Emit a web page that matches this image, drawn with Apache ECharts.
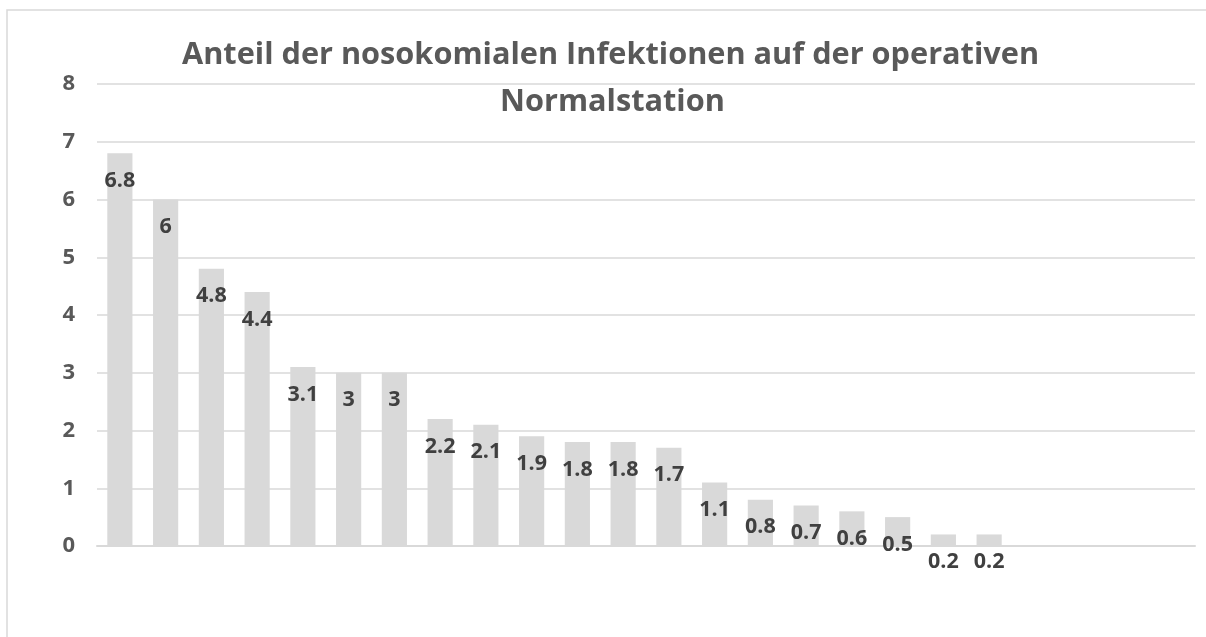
<!DOCTYPE html>
<html>
<head>
<meta charset="utf-8">
<script src="https://cdn.jsdelivr.net/npm/echarts@6/dist/echarts.min.js"></script>
<style>
  html, body { margin: 0; padding: 0; background: #ffffff; }
  #chart { width: 1206px; height: 637px; }
</style>
</head>
<body>
<div id="chart"></div>
<script>
// Anteil nosokomialer Infektionen je Kategorie (in %), absteigend sortiert
const categories = ['K1','K2','K3','K4','K5','K6','K7','K8','K9','K10','K11','K12',
                    'K13','K14','K15','K16','K17','K18','K19','K20','K21','K22','K23','K24'];
const values = [6.8, 6, 4.8, 4.4, 3.1, 3, 3, 2.2, 2.1, 1.9, 1.8, 1.8,
                1.7, 1.1, 0.8, 0.7, 0.6, 0.5, 0.2, 0.2, null, null, null, null];
const yTicks = [0, 1, 2, 3, 4, 5, 6, 7, 8];
const titleLine1 = 'Anteil der nosokomialen Infektionen auf der operativen';
const titleLine2 = 'Normalstation';

const chart = echarts.init(document.getElementById('chart'));
const FONT = "'Open Sans', 'Liberation Sans', sans-serif";
const titleStyle = { fontFamily: FONT, fontWeight: 'bold', fontSize: 30.7, color: '#595959' };
const tickStyle = { fontFamily: FONT, fontWeight: 'bold', fontSize: 22, color: '#595959' };

chart.setOption({
  backgroundColor: '#ffffff',
  animation: false,
  title: [
    { text: titleLine1, left: 177, top: 35, textStyle: titleStyle },
    { text: titleLine2, left: 495, top: 82, textStyle: titleStyle }
  ],
  graphic: [
    {
      type: 'rect',
      shape: { x: 7, y: 10, width: 1220, height: 650 },
      style: { fill: 'none', stroke: '#d9d9d9', lineWidth: 1.5 },
      silent: true
    }
  ],
  grid: { left: 97, right: 11, top: 84, bottom: 91 },
  xAxis: {
    type: 'category',
    data: categories,
    axisLine: { show: true, lineStyle: { color: '#d9d9d9', width: 2 } },
    axisTick: { show: false },
    axisLabel: { show: false }
  },
  yAxis: {
    type: 'value',
    min: yTicks[0],
    max: yTicks[yTicks.length - 1],
    interval: 1,
    axisLine: { show: false },
    axisTick: { show: false },
    axisLabel: {
      margin: 22,
      formatter: '{t|{value}}',
      rich: { t: tickStyle }
    },
    splitLine: { lineStyle: { color: '#d9d9d9', width: 1.5 } }
  },
  series: [
    {
      type: 'bar',
      data: values,
      barCategoryGap: '45%',
      itemStyle: { color: '#d9d9d9' },
      label: {
        show: true,
        position: 'insideTop',
        distance: 16.5,
        fontFamily: FONT, fontWeight: 'bold', fontSize: 21.5, color: '#404040'
      }
    }
  ]
});
</script>
</body>
</html>
